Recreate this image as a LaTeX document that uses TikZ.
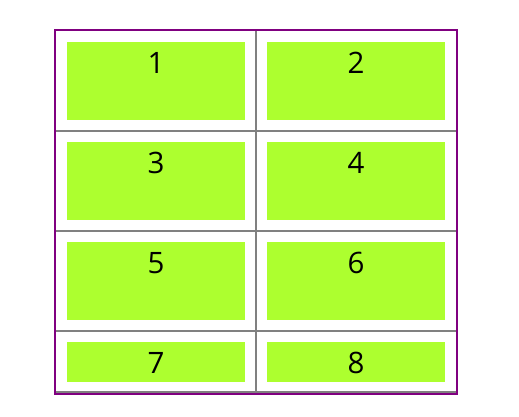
\documentclass[tikz,border=0pt]{standalone}
\usepackage{fontspec}
\setmainfont{Open Sans}
\usepackage{tikz}
\usetikzlibrary{positioning}

\definecolor{cellgreen}{HTML}{ADFF2F}
\definecolor{framepurple}{HTML}{800080}
\definecolor{gridgray}{HTML}{808080}

\begin{document}
\begin{tikzpicture}[x=1pt, y=-1pt,
  cellbox/.style = {fill=cellgreen, inner sep=0pt, minimum width=178pt},
  tallcell/.style = {cellbox, minimum height=78pt},
  lowcell/.style = {cellbox, minimum height=40pt},
  numtext/.style = {inner sep=0pt, font=\fontsize{29.5}{34}\selectfont}]

\useasboundingbox (0,0) rectangle (519,416);

\node[tallcell] (cell1) at (156,81) {};
\node[tallcell] (cell2) at (356,81) {};
\node[tallcell] (cell3) at (156,181) {};
\node[tallcell] (cell4) at (356,181) {};
\node[tallcell] (cell5) at (156,281) {};
\node[tallcell] (cell6) at (356,281) {};
\node[lowcell]  (cell7) at (156,362) {};
\node[lowcell]  (cell8) at (356,362) {};

\node[numtext] (num1) at (156,63) {1};
\node[numtext] (num2) at (356,63) {2};
\node[numtext] (num3) at (156,163) {3};
\node[numtext] (num4) at (356,163) {4};
\node[numtext] (num5) at (156,263) {5};
\node[numtext] (num6) at (356,263) {6};
\node[numtext] (num7) at (156,363) {7};
\node[numtext] (num8) at (356,363) {8};

% grid lines
\draw[gridgray, line width=1.6pt] (256,30) -- (256,394);
\draw[gridgray, line width=1.6pt] (55,131) -- (457,131);
\draw[gridgray, line width=1.6pt] (55,231) -- (457,231);
\draw[gridgray, line width=1.6pt] (55,331) -- (457,331);
\draw[gridgray, line width=1.6pt] (55,392) -- (457,392);

% outer frame
\draw[framepurple, line width=2pt] (55,30) rectangle (457,394);

\end{tikzpicture}
\end{document}
